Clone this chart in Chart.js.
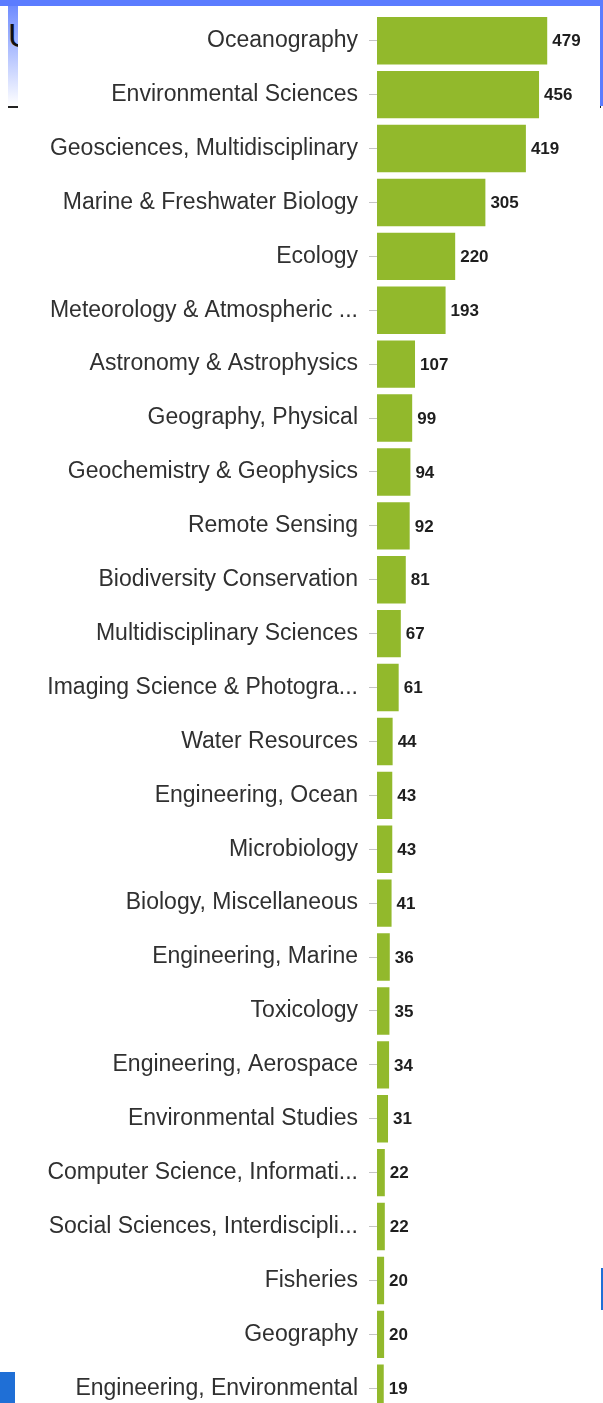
<!DOCTYPE html>
<html>
<head>
<meta charset="utf-8">
<title>Subject categories</title>
<script src="https://cdn.jsdelivr.net/npm/chart.js@4/dist/chart.umd.min.js"></script>
<style>
  html, body { margin: 0; padding: 0; width: 603px; height: 1403px; overflow: hidden; background: #fff; }
  /* bits of the slide behind the pasted chart */
  #topBar { position: absolute; left: 0; top: 0; width: 603px; height: 6px; background: #5b7cff; }
  #leftStrip { position: absolute; left: 8px; top: 6px; width: 10px; height: 100px;
    background: linear-gradient(#6f8cff, #ffffff); overflow: hidden; }
  #leftStrip span { position: absolute; left: 0; top: 10px; font: 34px "Liberation Sans", Arial, sans-serif; color: #111; }
  #leftRule { position: absolute; left: 8px; top: 106px; width: 10px; height: 2px; background: #222; }
  #rightStrip { position: absolute; left: 600px; top: 0; width: 3px; height: 106px; background: #5b7cff; }
  #rightRule { position: absolute; left: 597px; top: 106px; width: 4px; height: 2px; background: #222; }
  #rightMark { position: absolute; left: 601px; top: 1268px; width: 2px; height: 42px; background: #1f6fd6; }
  #cornerBlock { position: absolute; left: 0; top: 1372px; width: 15px; height: 31px; background: #1f6fd6; }
  #panel { position: absolute; left: 18px; top: 6px; width: 582px; height: 1397px; background: #fff; }
  #subjectCanvas { position: absolute; left: 0; top: -11px; }
</style>
</head>
<body>
<div id="topBar"></div>
<div id="leftStrip"><span>U</span></div>
<div id="leftRule"></div>
<div id="rightStrip"></div>
<div id="rightRule"></div>
<div id="rightMark"></div>
<div id="cornerBlock"></div>
<div id="panel"></div>
<canvas id="subjectCanvas" width="603" height="1451"></canvas>

<script>
// category labels, top to bottom (truncated ones as shown)
const categories = [
  'Oceanography',
  'Environmental Sciences',
  'Geosciences, Multidisciplinary',
  'Marine & Freshwater Biology',
  'Ecology',
  'Meteorology & Atmospheric ...',
  'Astronomy & Astrophysics',
  'Geography, Physical',
  'Geochemistry & Geophysics',
  'Remote Sensing',
  'Biodiversity Conservation',
  'Multidisciplinary Sciences',
  'Imaging Science & Photogra...',
  'Water Resources',
  'Engineering, Ocean',
  'Microbiology',
  'Biology, Miscellaneous',
  'Engineering, Marine',
  'Toxicology',
  'Engineering, Aerospace',
  'Environmental Studies',
  'Computer Science, Informati...',
  'Social Sciences, Interdiscipli...',
  'Fisheries',
  'Geography',
  'Engineering, Environmental'
];

// record counts per category
const counts = [
  479, 456, 419, 305, 220, 193, 107, 99, 94, 92, 81, 67, 61,
  44, 43, 43, 41, 36, 35, 34, 31, 22, 22, 20, 20, 19
];

const FONT = '"Liberation Sans", Arial, Helvetica, sans-serif';

// writes the count just past the end of each bar
const barValues = {
  id: 'barValues',
  afterDatasetsDraw(chart) {
    const ctx = chart.ctx;
    const meta = chart.getDatasetMeta(0);
    ctx.save();
    ctx.font = 'bold 17px ' + FONT;
    ctx.fillStyle = '#1e1e1e';
    ctx.textBaseline = 'middle';
    ctx.textAlign = 'left';
    meta.data.forEach((bar, i) => {
      ctx.fillText(String(counts[i]), bar.x + 5, bar.y + 1);
    });
    ctx.restore();
  }
};

window.onload = function() {
  new Chart(document.querySelector('#subjectCanvas'), {
    type: 'bar',
    data: {
      labels: categories,
      datasets: [{
        data: counts,
        backgroundColor: '#92b92c',
        borderWidth: 0,
        barPercentage: 0.88,
        categoryPercentage: 1
      }]
    },
    options: {
      indexAxis: 'y',
      responsive: false,
      animation: false,
      layout: { padding: { top: 3, right: 27, bottom: 0, left: 0 } },
      plugins: {
        legend: { display: false },
        tooltip: { enabled: false }
      },
      scales: {
        x: { display: false, min: 0, max: 560 },
        y: {
          afterFit(scale) { scale.width = 377; },
          border: { display: false },
          grid: {
            offset: false,
            drawOnChartArea: false,
            drawTicks: true,
            tickLength: 8,
            tickColor: '#c4c4c4'
          },
          ticks: {
            autoSkip: false,
            padding: 11,
            color: '#303030',
            font: { family: FONT, size: 23 }
          }
        }
      }
    },
    plugins: [barValues]
  });
};
</script>
</body>
</html>
